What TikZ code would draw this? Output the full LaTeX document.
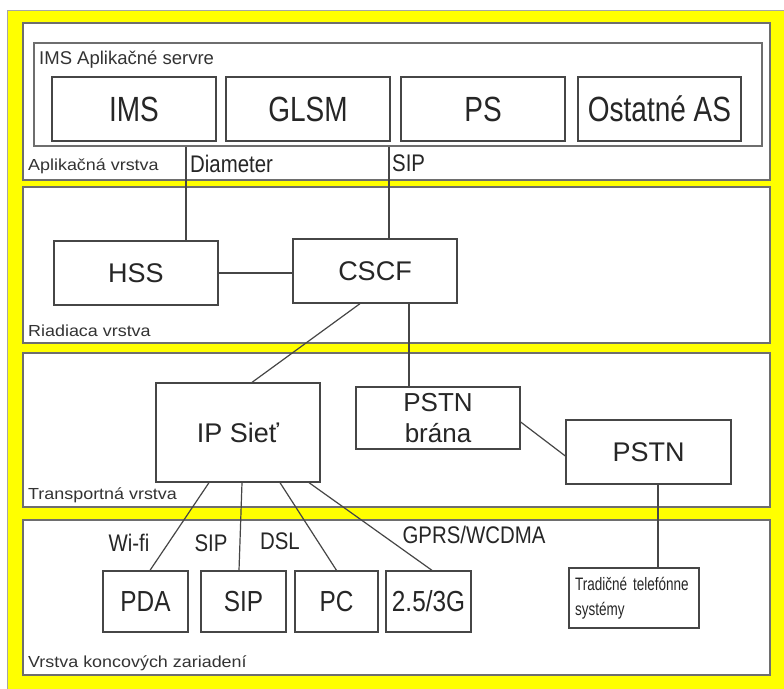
\documentclass[tikz,border=0pt]{standalone}
\usepackage{fontspec}
\setmainfont{Liberation Sans}
\newfontfamily\boxfont{Liberation Sans}[FakeStretch=0.8]
\newfontfamily\devfont{Liberation Sans}[FakeStretch=0.84]
\newfontfamily\labfont{Liberation Sans}[FakeStretch=0.85]
\newfontfamily\tradfont{Liberation Sans}[FakeStretch=0.75]
\newfontfamily\layerfont{Liberation Sans}[FakeStretch=1.12]
\usetikzlibrary{positioning}
\definecolor{layeryellow}{RGB}{255,255,0}
\definecolor{framegray}{RGB}{110,110,110}
\definecolor{linegray}{RGB}{70,70,70}

\begin{document}
\begin{tikzpicture}[x=1pt, y=-1pt,
  layer/.style={draw=framegray, line width=1.6pt, fill=white},
  unit/.style={draw=linegray, line width=1.3pt, fill=white, inner sep=0pt,
    minimum width=164pt, minimum height=64pt, text=black!85,
    font=\fontsize{27}{31}\selectfont, align=center},
  app/.style={unit, font=\boxfont\fontsize{35}{40}\selectfont},
  dev/.style={unit, minimum width=85pt, minimum height=61pt,
    font=\devfont\fontsize{29}{33}\selectfont},
  link/.style={draw=linegray, line width=1.2pt},
  tag/.style={anchor=west, inner sep=0pt, text=black!80,
    font=\layerfont\fontsize{16}{18}\selectfont},
  proto/.style={inner sep=0pt, text=black!85,
    font=\labfont\fontsize{24}{27}\selectfont}]
  \useasboundingbox (0,0) rectangle (784,688);
  \fill[white] (0,0) rectangle (784,688);
  \draw[draw=gray!70, line width=1pt, fill=layeryellow] (7.5,10.5) rectangle (800,700);

  % layers
  \foreach \top/\bot in {23/180, 187/343, 353/507, 520/675}
    \draw[layer] (23,\top) rectangle (770,\bot);
  \node[tag] (applayer) at (28,166) {Aplikačná vrstva};
  \node[tag] (ctrllayer) at (28,331) {Riadiaca vrstva};
  \node[tag] (translayer) at (28,495) {Transportná vrstva};
  \node[tag] (devlayer) at (28,663) {Vrstva koncových zariadení};

  % application servers
  \node[layer, line width=1.3pt, inner sep=0pt, minimum width=728pt,
    minimum height=103pt] (appserv) at (398,94.5) {};
  \node[anchor=west, inner sep=0pt, text=black!80,
    font=\fontsize{18.5}{21}\selectfont] (appname) at (39,60) {IMS Aplikačné servre};
  \node[app] (ims) at (134,109) {IMS};
  \node[app] (glsm) at (308,109) {GLSM};
  \node[app] (ps) at (483,109) {PS};
  \node[app, minimum width=163pt] (other) at (659.5,109) {Ostatné AS};

  % control
  \node[unit] (hss) at (136,273) {HSS};
  \node[unit] (cscf) at (375,271) {CSCF};

  % transport
  \node[unit, minimum height=99pt] (ipnet) at (238,432.5) {IP Sieť};
  \node[unit, minimum height=62pt, font=\fontsize{26}{31}\selectfont] (gw) at (438,418) {PSTN\\brána};
  \node[unit, minimum width=165pt] (pstn) at (648.5,452) {PSTN};

  % end devices
  \node[dev] (pda) at (145.5,601.5) {PDA};
  \node[dev] (sipdev) at (243.5,601.5) {SIP};
  \node[dev, minimum width=83pt] (pc) at (336.5,601.5) {PC};
  \node[dev] (mob) at (428.5,601.5) {2.5/3G};
  \node[unit, minimum width=130pt, minimum height=60pt, text width=118pt,
    align=left, font=\tradfont\fontsize{18}{25}\selectfont] (trad) at (634,598)
    {Tradičné telefónne\\systémy};

  % connectors
  \coordinate (dia) at ([xshift=50pt]hss.north);
  \coordinate (sipx) at ([xshift=14pt]cscf.north);
  \draw[link] (dia) -- (dia |- appserv.south);
  \draw[link] (sipx) -- (sipx |- appserv.south);
  \node[proto, anchor=west] (dialab) at (190,163.5) {Diameter};
  \node[proto, anchor=west] (siplab) at (392,163.5) {SIP};
  \draw[link] (hss.east) -- (cscf.west |- hss.east);
  \draw[link] ([xshift=-15pt]cscf.south) -- ([xshift=14pt]ipnet.north);
  \draw[link] ([xshift=34pt]cscf.south) -- ([xshift=-29pt]gw.north);
  \draw[link] ([yshift=-4pt]gw.east) -- ([yshift=-4pt]pstn.west);
  \coordinate (tel) at ([xshift=9.5pt]pstn.south);
  \draw[link] (tel) -- (tel |- trad.north);
  \foreach \a/\b/\n in {-29/4.5/pda, 4/-4.5/sipdev, 42/0/pc, 71/3.5/mob}
    \draw[link] ([xshift=\a pt]ipnet.south) -- ([xshift=\b pt]\n.north);
  \node[proto] (wifi) at (129,543) {Wi-fi};
  \node[proto] (sipacc) at (211,543) {SIP};
  \node[proto] (dsl) at (280,541) {DSL};
  \node[proto] (gprs) at (474,535) {GPRS/WCDMA};
\end{tikzpicture}
\end{document}
